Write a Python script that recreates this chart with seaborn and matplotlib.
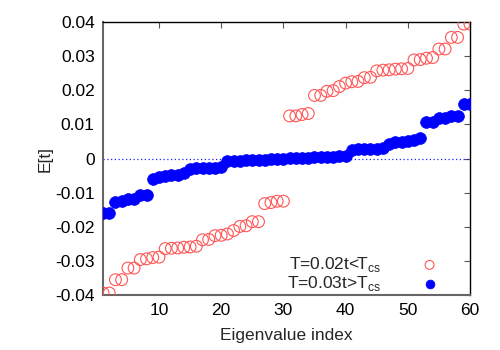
import numpy as np
import pandas as pd
import matplotlib
matplotlib.use("Agg")
import matplotlib.pyplot as plt
import seaborn as sns

# Data
index = list(range(1, 61))
e_low = [-0.0394, -0.0394, -0.0355, -0.0355, -0.0321, -0.0321, -0.0296, -0.0294, -0.0290, -0.0289,
         -0.0264, -0.0263, -0.0262, -0.0260, -0.0259, -0.0257, -0.0238, -0.0237, -0.0226, -0.0225,
         -0.0221, -0.0211, -0.0199, -0.0197, -0.0185, -0.0185, -0.0132, -0.0129, -0.0125, -0.0125,
         0.0125, 0.0125, 0.0129, 0.0132, 0.0185, 0.0185, 0.0197, 0.0199, 0.0211, 0.0221,
         0.0225, 0.0226, 0.0237, 0.0238, 0.0257, 0.0259, 0.0260, 0.0262, 0.0263, 0.0264,
         0.0289, 0.0290, 0.0294, 0.0296, 0.0321, 0.0321, 0.0355, 0.0355, 0.0394, 0.0394]
e_high = [-0.0160, -0.0160, -0.0126, -0.0124, -0.0120, -0.0118, -0.0106, -0.0106, -0.0060, -0.0053,
          -0.0050, -0.0049, -0.0048, -0.0042, -0.0032, -0.0028, -0.0027, -0.0027, -0.0027, -0.0026,
          -0.0008, -0.0007, -0.0006, -0.0005, -0.0004, -0.0004, -0.0003, -0.0002, -0.0002, -0.0001,
          0.0001, 0.0002, 0.0002, 0.0003, 0.0004, 0.0004, 0.0005, 0.0006, 0.0007, 0.0008,
          0.0026, 0.0027, 0.0027, 0.0027, 0.0028, 0.0032, 0.0042, 0.0048, 0.0049, 0.0050,
          0.0053, 0.0060, 0.0106, 0.0106, 0.0118, 0.0120, 0.0124, 0.0126, 0.0160, 0.0160]
label_low = r"T=0.02t<T$_{\mathrm{cs}}$"
label_high = r"T=0.03t>T$_{\mathrm{cs}}$"
xticks = [10, 20, 30, 40, 50, 60]
yticks = [-0.04, -0.03, -0.02, -0.01, 0, 0.01, 0.02, 0.03, 0.04]
ytick_labels = ["-0.04", "-0.03", "-0.02", "-0.01", "0", "0.01", "0.02", "0.03", "0.04"]

sns.set_theme(style="white")
plt.rcParams['font.family'] = ['Liberation Sans', 'DejaVu Sans']
plt.rcParams['mathtext.fontset'] = 'custom'
plt.rcParams['mathtext.rm'] = 'Liberation Sans'

fig = plt.figure(figsize=(5, 3.5), dpi=100)
ax = fig.add_axes([0.206, 0.157, 0.734, 0.78])

df_low = pd.DataFrame({"idx": index, "E": e_low})
df_high = pd.DataFrame({"idx": index, "E": e_high})

ax.axhline(0, color="#2020ff", lw=0.9, ls=(0, (1, 2)), zorder=1)

sns.scatterplot(data=df_low, x="idx", y="E", ax=ax, marker="o", s=72,
                facecolors="none", edgecolor="#ff5555", linewidth=0.8,
                label=label_low, zorder=3)
sns.scatterplot(data=df_high, x="idx", y="E", ax=ax, marker="o", s=72,
                color="#0000ff", edgecolor="#0000ff", linewidth=0.5,
                label=label_high, zorder=4)

ax.set_xlim(1, 60)
ax.set_ylim(-0.04, 0.04)
ax.set_xticks(xticks)
ax.set_yticks(yticks)
ax.set_yticklabels(ytick_labels)
ax.tick_params(axis="both", which="both", direction="in", length=4, width=0.8,
               top=True, right=True, labelsize=12.5, colors="#555555", labelcolor="black",
               pad=6)
ax.set_xlabel("Eigenvalue index", fontsize=12.5, labelpad=7)
ax.set_ylabel("E[t]", fontsize=12.5, labelpad=2)

for side in ["left", "bottom"]:
    ax.spines[side].set_color("#666666")
    ax.spines[side].set_linewidth(1.5)
for side in ["top", "right"]:
    ax.spines[side].set_color("black")
    ax.spines[side].set_linewidth(1.0)

leg = ax.legend(loc="lower right", markerfirst=False, frameon=False, fontsize=12.5,
                handletextpad=1.8, labelspacing=0.0, markerscale=0.75,
                bbox_to_anchor=(0.975, -0.045), borderpad=0.3)

fig.savefig("out.png", dpi=100)
